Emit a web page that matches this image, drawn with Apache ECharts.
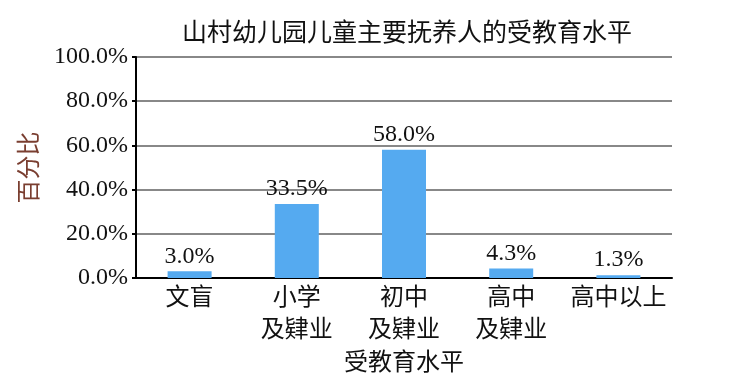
<!DOCTYPE html>
<html><head><meta charset="utf-8">
<script src="https://cdn.jsdelivr.net/npm/echarts@6/dist/echarts.min.js"></script>
<style>html,body{margin:0;padding:0;background:#fff}#c{width:733px;height:387px}</style>
</head><body><div id="c"></div>
<script>
const categories = ['文盲', '小学\n及肄业', '初中\n及肄业', '高中\n及肄业', '高中以上'];
const values = [3.0, 33.5, 58.0, 4.3, 1.3];
const yTicks = [0, 20, 40, 60, 80, 100];
const FONT = '"Liberation Serif", "Noto Sans CJK SC", serif';
const chart = echarts.init(document.getElementById('c'));
chart.setOption({
  animation: false,
  title: {
    text: '山村幼儿园儿童主要抚养人的受教育水平',
    left: 402, textAlign: 'center', top: 17,
    textStyle: { fontFamily: FONT, fontSize: 25, fontWeight: 'normal', color: '#111' }
  },
  grid: { left: 136, right: 61, top: 57, bottom: 109, containLabel: false },
  xAxis: {
    type: 'category', data: categories,
    name: '受教育水平', nameLocation: 'middle', nameGap: 68,
    nameTextStyle: { fontFamily: FONT, fontSize: 24, color: '#111' },
    axisLine: { lineStyle: { color: '#000', width: 2 } },
    axisTick: { show: false },
    axisLabel: { interval: 0, hideOverlap: false, fontFamily: FONT, fontSize: 24, color: '#111', margin: 5, lineHeight: 32 }
  },
  yAxis: {
    type: 'value', min: yTicks[0], max: yTicks[yTicks.length - 1], interval: 20,
    name: '百分比', nameLocation: 'middle', nameGap: 90, nameRotate: 90,
    nameTextStyle: { fontFamily: FONT, fontSize: 24, color: '#7a3e30' },
    axisLine: { show: true, lineStyle: { color: '#000', width: 2 } },
    axisTick: { show: true, length: 4, lineStyle: { color: '#000', width: 2 } },
    splitLine: { lineStyle: { color: '#888', width: 2 } },
    axisLabel: { fontFamily: FONT, fontSize: 24, color: '#111', margin: 8,
      formatter: v => v.toFixed(1) + '%' }
  },
  series: [{
    type: 'bar', data: values, barWidth: 44,
    itemStyle: { color: '#55aaf0' },
    label: { show: true, position: 'top', distance: 3,
      fontFamily: FONT, fontSize: 24, color: '#111',
      formatter: p => p.value.toFixed(1) + '%' }
  }]
});
</script></body></html>
